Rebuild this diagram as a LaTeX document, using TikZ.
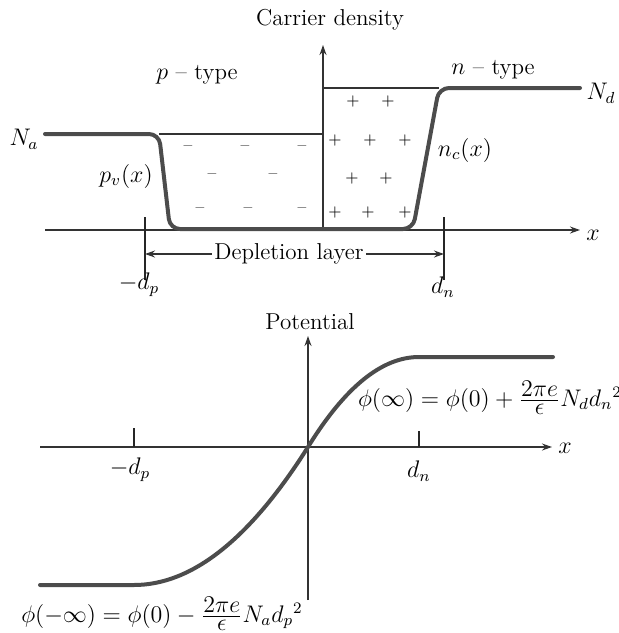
\documentclass[tikz,border=0pt]{standalone}
\usetikzlibrary{arrows.meta}
\begin{document}
\begin{tikzpicture}[x=0.5pt,y=-0.5pt,
  font=\fontsize{11.5}{13}\selectfont,
  thinline/.style={line width=0.7pt, black!80},
  thickline/.style={line width=2pt, black!70, line join=round, line cap=round},
  axisarrow/.style={thinline, -{Stealth[length=5pt,width=3.5pt]}},
  tickline/.style={line width=0.8pt, black!85},
  sign/.style={inner sep=0pt, font=\fontsize{8.5}{10}\selectfont},
  lbl/.style={inner sep=1pt}]
\useasboundingbox (0,0) rectangle (618,633);
% ---------- top plot ----------
\coordinate (O1) at (323,230);
\coordinate (xs1) at (45,230);
\coordinate (xe1) at (580,230);
\coordinate (ye1) at (323,45);
\draw[axisarrow] (xs1) -- (xe1);
\draw[axisarrow] (O1) -- (ye1);
\node[lbl] (x1) at (593,235) {$x$};
\node[lbl] (cd) at (330,20) {Carrier density};
\node[lbl] (pt) at (197,75) {$p$ -- type};
\node[lbl] (nt) at (493,70) {$n$ -- type};
\node[lbl] (Na) at (24,139) {$N_a$};
\node[lbl] (Nd) at (601,93) {$N_d$};
\node[lbl] (pv) at (126,176) {$p_v(x)$};
\node[lbl] (nc) at (465,150) {$n_c(x)$};
% thin reference lines
\coordinate (a1) at (159,134);
\coordinate (a2) at (323,134);
\coordinate (b1) at (323,88);
\coordinate (b2) at (439,88);
\draw[thinline] (a1) -- (a2);
\draw[thinline] (b1) -- (b2);
% carrier density curve
\draw[thickline, rounded corners=5pt] (45,134) -- (a1) -- (170,229) -- (413,229) -- (b2) -- (580,88);
% minus signs
\foreach \p in {(188,148),(245,148),(302,148),(212,176),(273,176),(200,210),(248,210),(302,210)}
  \node[sign] at \p {--};
% plus signs
\foreach \p in {(353,101),(388,101),(335,140),(370,140),(405,140),(352,178),(386,178),(335,212),(368,212),(405,212)}
  \node[sign] at \p {$+$};
% ticks and depletion layer
\coordinate (t1a) at (145,217); \coordinate (t1b) at (145,280);
\coordinate (t2a) at (444,217); \coordinate (t2b) at (444,280);
\draw[tickline] (t1a) -- (t1b);
\draw[tickline] (t2a) -- (t2b);
\node[lbl, fill=white, inner sep=1pt] (dep) at (289,254) {Depletion layer};
\coordinate (dl) at (145,254);
\coordinate (dr) at (444,254);
\draw[axisarrow] (dep.west) -- (dl);
\draw[axisarrow] (dep.east) -- (dr);
\node[lbl] (mdp) at (139,285) {$-d_p$};
\node[lbl] (dn) at (443,287) {$d_n$};
% ---------- bottom plot ----------
\coordinate (O2) at (308,447);
\coordinate (xs2) at (40,447);
\coordinate (xe2) at (552,447);
\coordinate (yb2) at (308,600);
\coordinate (ye2) at (308,336);
\draw[axisarrow] (xs2) -- (xe2);
\draw[axisarrow] (yb2) -- (ye2);
\node[lbl] (x2) at (565,448) {$x$};
\node[lbl] (pot) at (310,322) {Potential};
\draw[tickline] (134,428) -- (134,447);
\draw[tickline] (419,431) -- (419,447);
\node[lbl] (mdp2) at (130,470) {$-d_p$};
\node[lbl] (dn2) at (419,471) {$d_n$};
\draw[thickline] (40,585) -- (134,585) .. controls (192,585) and (250,539) .. (O2)
  .. controls (345,387) and (382,357) .. (419,357) -- (553,357);
\node[lbl] (f1) at (490,398) {$\phi(\infty)=\phi(0)+\frac{\textstyle 2\pi e}{\textstyle\epsilon}N_d d_n{}^{2}$};
\node[lbl] (f2) at (162,614) {$\phi(-\infty)=\phi(0)-\frac{\textstyle 2\pi e}{\textstyle\epsilon}N_a d_p{}^{2}$};
\end{tikzpicture}
\end{document}
